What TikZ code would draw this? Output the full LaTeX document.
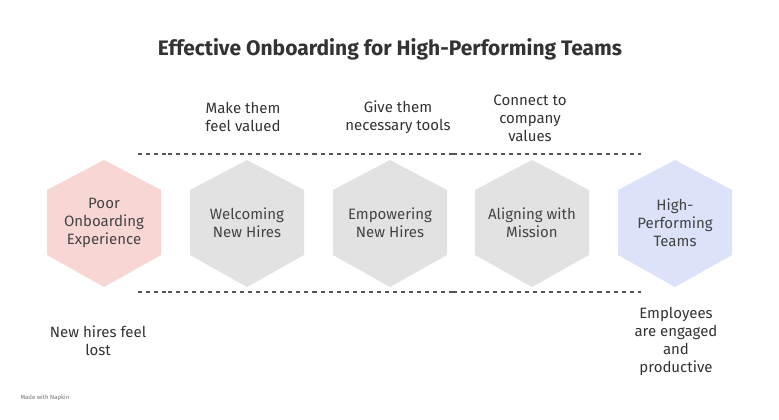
\documentclass[tikz,border=0pt]{standalone}
\usepackage{fontspec}
\setmainfont{Fira Sans}
\usetikzlibrary{arrows.meta}
\definecolor{pinkfill}{HTML}{F8D6D4}
\definecolor{grayfill}{HTML}{E2E2E2}
\definecolor{bluefill}{HTML}{DBE2F9}
\definecolor{txt}{HTML}{444444}
\definecolor{linec}{HTML}{555555}
\definecolor{arrc}{HTML}{BBBBBB}
\tikzset{
  hexlabel/.style={align=center, text=txt, inner sep=0pt, font=\fontsize{15}{18}\selectfont},
  note/.style={align=center, text=black!80, font=\fontsize{15}{18}\selectfont},
  flow/.style={draw=linec, line width=1.4pt, dash pattern=on 4pt off 4pt},
  tip/.style={-{Straight Barb[length=4pt,width=8pt,line width=1pt,color=arrc]}},
}
\newcommand{\hexshape}[2]{%
  \fill[#2, shift={(#1)}] (0,-63) -- (57,-33) -- (57,32) -- (0,64) -- (-57,32) -- (-57,-33) -- cycle;}
\begin{document}
\begin{tikzpicture}[x=1pt,y=-1pt]
\useasboundingbox (0,0) rectangle (779,420);
\node[font=\fontsize{21}{23}\selectfont\bfseries, text=black!80] (title) at (390,49) {Effective Onboarding for High-Performing Teams};

\coordinate (c1) at (104,223);
\coordinate (c2) at (247,223);
\coordinate (c3) at (390,223);
\coordinate (c4) at (532,223);
\coordinate (c5) at (675,223);
\hexshape{c1}{pinkfill}
\hexshape{c2}{grayfill}
\hexshape{c3}{grayfill}
\hexshape{c4}{grayfill}
\hexshape{c5}{bluefill}

\node[hexlabel] (h1) at (c1) {Poor\\Onboarding\\Experience};
\node[hexlabel] (h2) at (c2) {Welcoming\\New Hires};
\node[hexlabel] (h3) at (c3) {Empowering\\New Hires};
\node[hexlabel] (h4) at (c4) {Aligning with\\Mission};
\node[hexlabel] (h5) at (c5) {High-\\Performing\\Teams};

\node[note] (n2) at (243,117) {Make them\\feel valued};
\node[note] (n3) at (398,117) {Give them\\necessary tools};
\node[note] (n4) at (530,118) {Connect to\\company\\values};
\node[note] (n1) at (98,341) {New hires feel\\lost};
\node[note] (n5) at (676,341) {Employees\\are engaged\\and\\productive};

\node[font=\fontsize{6}{7}\selectfont, text=black!55, anchor=west] (wm) at (17,398) {Made with Napkin};

% top track
\coordinate (t0) at (138,154);
\coordinate (t1) at (168,154);
\coordinate (t2) at (313,154);
\coordinate (t3) at (453,154);
\coordinate (t4) at (598,154);
\coordinate (t5) at (641,154);
% bottom track
\coordinate (b0) at (138,292);
\coordinate (b1) at (168,292);
\coordinate (b2) at (313,292);
\coordinate (b3) at (453,292);
\coordinate (b4) at (598,292);
\coordinate (b5) at (641,292);

\foreach \r in {t,b}{
  \draw[flow] (\r0) -- (\r1);
  \draw[flow] (\r1) -- (\r2);
  \draw[flow] (\r2) -- (\r3);
  \draw[flow] (\r3) -- (\r4);
  \draw[flow] (\r4) -- (\r5);
  \foreach \i in {1,2,3,4}{
    \draw[tip, draw=none] ([xshift=-4pt]\r\i) -- (\r\i);
  }
}
\end{tikzpicture}
\end{document}
